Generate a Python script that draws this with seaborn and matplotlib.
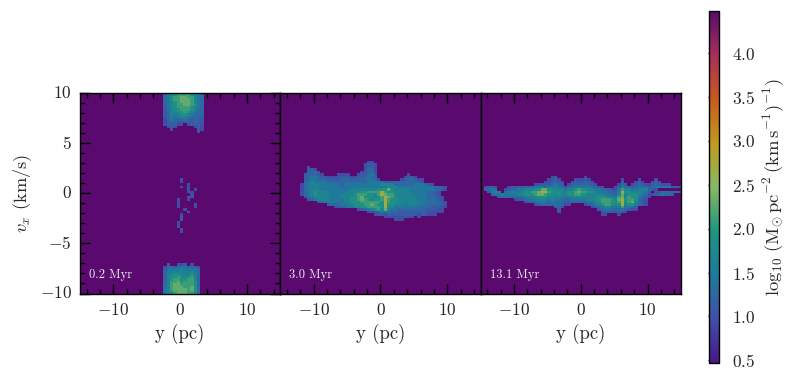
import numpy as np
import pandas as pd
import matplotlib
matplotlib.use('Agg')
import matplotlib.pyplot as plt
import seaborn as sns
from matplotlib.colors import LinearSegmentedColormap
from matplotlib.ticker import FixedLocator

sns.set_style('white')
plt.rcParams['font.family'] = ['cmr10', 'DejaVu Serif']
plt.rcParams['mathtext.fontset'] = 'cm'
plt.rcParams['axes.unicode_minus'] = False
plt.rcParams['axes.formatter.use_mathtext'] = True

# each character is one cell of a map: 60 columns in y (0.5 pc each),
# 80 rows in vx (0.25 km/s each, top row = +10 km/s), '.' = no gas
log_levels = {'0': 0.6, '1': 0.95, '2': 1.1, '3': 1.25, '4': 1.45, '5': 1.65,
              '6': 1.9, '7': 2.1, '8': 2.3, '9': 2.7, 'a': 3.0, '.': np.nan}

labels = ['0.2 Myr', '3.0 Myr', '13.1 Myr']
y_ticks = [-10, 0, 10]
vx_ticks = [-10, -5, 0, 5, 10]
cbar_ticks = [0.5, 1.0, 1.5, 2.0, 2.5, 3.0, 3.5, 4.0]

pad25 = '.' * 25
map_early = [pad25 + r for r in [
    '345677776543', '346778877543', '346778887543', '345678887543',
    '345677887643', '245677776543', '245667776533', '235566765433',
    '235456654333', '234445543332', '134333432322', '123322222322',
    '122211.12221', '.121.....121', '..1.......21', '..........1.']]
map_early += [''] * 18
map_early += [
    '..............................1', '..............................1',
    '................................1', '..............................1.1',
    '................................1.1', '................................11',
    '.................................1', '................................12',
    '.............................1..1', '.............................1',
    '.............................1....1', '.............................1....1',
    '...............................1', '................................2',
    '..............................1', '..............................2',
    '..............................2', '.............................1',
    '.............................1', '.............................2',
    '..............................1', '..............................1']
map_early += [''] * 12
map_early += [pad25 + r for r in [
    '.2..112.1...', '13323443321.', '24444544443.', '34455555543.',
    '35566555653.', '35667656753.', '35677667753.', '35778677763.',
    '35788777763.', '45788877863.', '45788887863.', '45678887753.']]

map_mid = [''] * 27 + [r.replace(' ', '') for r in [
    '.......... .......... ......11',
    '.......... .......... .....1221',
    '........1. .......... .....1221',
    '........22 1......... .....1331',
    '........23 32........ ....12331',
    '.......233 321....111 1..122342 .........1',
    '.......234 4322111222 21122343 2........1221',
    '.......234 4333222233 3222334431 ......1233211',
    '.......345 4444333333 3333334444 4222333333 321',
    '......1345 5544444334 4444444444 5555333333 444321',
    '......1344 5544444433 4444444444 4455644444 44444433 21',
    '......1345 5544444444 4555555556 6686555544 44444433 21',
    '......1345 6555444444 5556667777 97665555 5444443321',
    '......1345 6555544455 5567776657 9877655555 44443321',
    '.......234 5555544455 5667866656 7987655555 5444333 21',
    '........23 4555544445 5667876566 7976655555 54443 4321',
    '...........23445 4445566677 7777697665 5555554443 4321',
    '..............23 3344556667 7876696655 5455544433 3321',
    '................ 1223445566 7777696544 4444433332 2211',
    '.................. .....123 4567585443 3333333222 211',
    '.......... .......... ......1122 434332 2222222211 111',
    '.......... .......... ........12 2122222222 212211 1',
    '.......... .......... ...........11111 1211.1',
    '.......... .......... ..............11 1']]

map_late = [''] * 33 + [r.replace(' ', '') for r in [
    '.......... .......... .12....... .1........',
    '.......... .......... 1221....11 121....... ..1....1.. ..1.......',
    '.......... .........1 12321..122 2321...... ..2...121. .121......',
    '.......... ......1122 23432.1233 33321..... .132.12321 1232111...',
    '.1221...12 2223334443 4454323444 4443321... 1243323433 2344444221',
    '.2344..123 3445556688 6655545567 6655443321 1475544555 321.......',
    '..2455.345 4456677899 7666556678 7766544432 2596655554 2.12333332',
    '...3445444 4556667887 6656556677 6655555443 3585666543 11234332..',
    '.....23333 3334555666 5555444555 5555566655 4785766432 1.........',
    '.......... 1223445555 4544433444 4455667776 5896776321 ..........',
    '.......... ...1233444 3433322333 3344567776 6796785421 ..........',
    '.......... ......1233 3343211... .123456776 5695664321 ..........',
    '.......... .......... ..231..... ...1234554 4474432... ..........',
    '.......... .......... ...2...... .....23443 3343211... ..........',
    '.......... .......... ...1...... ......1222 2221...... ..........',
    '.......... .......... .......... ......11.. .1........ ..........']]

maps = [map_early, map_mid, map_late]
cmap_colors = ['#4a168a', '#3f50a8', '#1f7a9c', '#1f9580', '#8ab862',
               '#c09a20', '#c85a1e', '#a83058', '#5a0a6e']
cmap = LinearSegmentedColormap.from_list('pv', cmap_colors)


def to_frame(rows):
    rows = rows + [''] * (80 - len(rows))
    grid = [[log_levels[c] for c in r.ljust(60, '.')[:60]] for r in rows]
    return pd.DataFrame(grid)


fig = plt.figure(figsize=(7.93, 3.81), dpi=100)
cax = fig.add_axes([708.5 / 793, 18 / 381, 10.5 / 793, 352 / 381])
lefts = [80, 280.3, 480.6]

for i, (rows, label) in enumerate(zip(maps, labels)):
    ax = fig.add_axes([lefts[i] / 793, 87.5 / 381, 200.3 / 793, 200.5 / 381])
    sns.heatmap(to_frame(rows), ax=ax, cmap=cmap, vmin=0.47, vmax=4.48,
                cbar=i == 0, cbar_ax=cax if i == 0 else None, square=False)
    ax.set_facecolor('#5a0a6e')
    for s in ax.spines.values():
        s.set_visible(True)
        s.set_color('black')
        s.set_linewidth(1.0)

    ax.set_xticks([(t + 15) * 2 for t in y_ticks])
    ax.set_xticklabels([f'${t}$' for t in y_ticks], rotation=0, fontsize=12.5)
    ax.xaxis.set_minor_locator(FixedLocator([(t + 15) * 2 for t in range(-14, 15, 2)]))
    ax.tick_params(axis='x', which='major', direction='in', top=True, bottom=True,
                   length=7, width=1, pad=6, color='black')
    ax.tick_params(axis='x', which='minor', direction='in', top=True, bottom=True,
                   length=3.6, width=1, color='black')
    ax.set_xlabel('y (pc)', fontsize=13.5, labelpad=4)
    ax.set_ylabel('')

    if i == 0:
        ax.set_yticks([(10 - t) * 4 for t in vx_ticks])
        ax.set_yticklabels([f'${t}$' for t in vx_ticks], rotation=0, fontsize=12.5)
        ax.yaxis.set_minor_locator(FixedLocator([(10 - t) * 4 for t in range(-9, 10)]))
        ax.tick_params(axis='y', which='major', direction='in', left=True, right=True,
                       length=7, width=1, pad=6, color='black')
        ax.tick_params(axis='y', which='minor', direction='in', left=True, right=True,
                       length=3.6, width=1, color='black')
        ax.set_ylabel(r'$v_x$ (km/s)', fontsize=13.2, labelpad=4)
    else:
        ax.set_yticks([])
    ax.text(0.045, 0.075, label, color='white', fontsize=9, transform=ax.transAxes, alpha=0.9)

# colorbar
cax.set_ylim(0.47, 4.48)
cax.yaxis.set_ticks(cbar_ticks)
cax.set_yticklabels([f'${t:.1f}$' for t in cbar_ticks], fontsize=12.5)
cax.yaxis.set_minor_locator(FixedLocator(np.arange(5, 45) / 10))
cax.tick_params(axis='y', which='major', direction='in', right=True, left=False,
                length=8, width=1, pad=9, color='black')
cax.tick_params(axis='y', which='minor', direction='in', right=True, left=False,
                length=3.6, width=1, color='black')
cbar = fig.axes[1].collections[0].colorbar
cbar.outline.set_visible(True)
cbar.outline.set_linewidth(1.0)
cbar.outline.set_edgecolor('black')
cbar.set_label(r'$\log_{10}\,(\mathrm{M}_{\odot}\,\mathrm{pc}^{-2}\,(\mathrm{km\,s}^{-1})^{-1})$',
               fontsize=13.4, labelpad=5)

fig.savefig('out.png', dpi=100)
